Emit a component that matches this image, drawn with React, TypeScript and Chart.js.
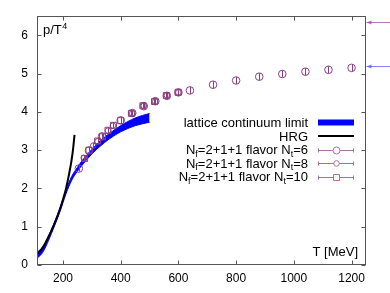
import React, { useEffect, useRef } from "react";
import { Chart, registerables } from "chart.js";
Chart.register(...registerables);

const xTicks = [200, 400, 600, 800, 1000, 1200];
const yTicks = [0, 1, 2, 3, 4, 5, 6];

const hrgT = [110, 120, 130, 140, 150, 160, 170, 180, 190, 200, 210, 220, 230, 235, 240];
const hrgP = [0.29, 0.36, 0.46, 0.59, 0.74, 0.9, 1.07, 1.26, 1.47, 1.71, 1.98, 2.33, 2.75, 3.03, 3.4];

const bandT = [110, 130, 150, 170, 190, 210, 230, 250, 270, 300, 330, 360, 400, 450, 500];
const bandLow = [0.17, 0.33, 0.64, 1.01, 1.4, 1.85, 2.21, 2.45, 2.64, 2.9, 3.11, 3.29, 3.48, 3.64, 3.73];
const bandHigh = [0.33, 0.47, 0.76, 1.11, 1.5, 1.95, 2.31, 2.55, 2.76, 3.02, 3.25, 3.43, 3.64, 3.84, 3.96];

const nt6T = [255, 290, 335, 400, 440, 480, 520, 560, 600, 640, 720, 800, 880, 960, 1040, 1120, 1200];
const nt6P = [2.52, 2.99, 3.36, 3.78, 3.97, 4.15, 4.28, 4.42, 4.51, 4.56, 4.71, 4.82, 4.92, 4.99, 5.05, 5.1, 5.15];
const nt6Err = [0.08, 0.08, 0.08, 0.08, 0.08, 0.08, 0.08, 0.08, 0.08, 0.09, 0.09, 0.09, 0.09, 0.09, 0.09, 0.09, 0.09];

const nt8T = [272, 305, 320, 356, 373, 440, 480, 520, 560, 600];
const nt8P = [2.8, 3.12, 3.23, 3.51, 3.64, 3.96, 4.16, 4.27, 4.43, 4.51];
const nt8Err = [0.07, 0.07, 0.07, 0.07, 0.07, 0.07, 0.07, 0.07, 0.07, 0.07];

const nt10T = [275, 290, 320, 337, 356, 375, 400, 437, 477, 517, 558, 599];
const nt10P = [2.78, 3.0, 3.24, 3.35, 3.52, 3.65, 3.77, 3.96, 4.16, 4.27, 4.43, 4.51];
const nt10Err = [0.08, 0.08, 0.08, 0.08, 0.08, 0.08, 0.08, 0.08, 0.08, 0.08, 0.08, 0.08];

const sbLimits = [6.36, 5.21];
const sbColors = ["rgba(150,80,150,0.75)", "rgba(90,90,255,0.75)"];

const PURPLE = "rgb(140,62,128)";
const PURPLE_L = "rgb(170,110,160)";
const FONT = "'Liberation Sans', Arial, sans-serif";

const pts = (xs: number[], ys: number[]) => xs.map((x, i) => ({ x, y: ys[i] }));

const errs: Record<number, number[]> = { 0: nt6Err, 1: nt8Err, 2: nt10Err };

const framePlugin = {
  id: "frame",
  afterDatasetsDraw(chart: any) {
    const { ctx, chartArea: a, scales } = chart;
    const x = scales.x, y = scales.y;
    ctx.save();
    // error bars
    ctx.strokeStyle = PURPLE;
    ctx.lineWidth = 1;
    [0, 1, 2].forEach((di) => {
      const ds = chart.data.datasets[di];
      ds.data.forEach((p: any, i: number) => {
        const px = Math.round(x.getPixelForValue(p.x)) + 0.5;
        const e = errs[di][i];
        ctx.beginPath();
        ctx.moveTo(px, y.getPixelForValue(p.y - e));
        ctx.lineTo(px, y.getPixelForValue(p.y + e));
        ctx.stroke();
      });
    });
    // frame
    const L = Math.round(a.left) + 0.5, R = Math.round(a.right) - 0.5;
    const T = Math.round(a.top) + 0.5, B = Math.round(a.bottom) - 0.5;
    ctx.strokeStyle = "#555";
    ctx.lineWidth = 1;
    ctx.strokeRect(L, T, R - L, B - T);
    ctx.beginPath();
    xTicks.forEach((v) => {
      const px = Math.round(x.getPixelForValue(v)) + 0.5;
      ctx.moveTo(px, B); ctx.lineTo(px, B - 4);
      ctx.moveTo(px, T); ctx.lineTo(px, T + 4);
    });
    yTicks.forEach((v) => {
      const py = Math.round(y.getPixelForValue(v)) + 0.5;
      ctx.moveTo(L, py); ctx.lineTo(L + 4, py);
      ctx.moveTo(R, py); ctx.lineTo(R - 4, py);
    });
    ctx.stroke();
    // SB arrows
    sbLimits.forEach((v, i) => {
      const py = Math.round(y.getPixelForValue(v)) + 0.5;
      ctx.strokeStyle = sbColors[i];
      ctx.fillStyle = sbColors[i];
      ctx.beginPath();
      ctx.moveTo(R + 1, py); ctx.lineTo(R + 26, py);
      ctx.stroke();
      ctx.beginPath();
      ctx.moveTo(R + 1, py); ctx.lineTo(R + 6, py - 2); ctx.lineTo(R + 6, py + 2);
      ctx.closePath(); ctx.fill();
    });
    // axis titles
    ctx.fillStyle = "#000";
    ctx.font = `13px ${FONT}`;
    ctx.textBaseline = "alphabetic";
    ctx.textAlign = "left";
    const tx = a.left + 6;
    ctx.fillText("p/T", tx, 34);
    const w = ctx.measureText("p/T").width;
    ctx.font = `9px ${FONT}`;
    ctx.fillText("4", tx + w + 0.5, 29);
    ctx.font = `13px ${FONT}`;
    ctx.textAlign = "right";
    ctx.fillText("T [MeV]", a.right - 8, 256);
    // legend
    const rows: { parts: [string, boolean][]; kind: string }[] = [
      { parts: [["lattice continuum limit", false]], kind: "band" },
      { parts: [["HRG", false]], kind: "hrg" },
      { parts: [["N", false], ["f", true], ["=2+1+1 flavor N", false], ["t", true], ["=6", false]], kind: "c6" },
      { parts: [["N", false], ["f", true], ["=2+1+1 flavor N", false], ["t", true], ["=8", false]], kind: "c8" },
      { parts: [["N", false], ["f", true], ["=2+1+1 flavor N", false], ["t", true], ["=10", false]], kind: "sq" },
    ];
    const textRight = 308;
    const sx0 = 318, sx1 = 354, smid = 336;
    rows.forEach((r, i) => {
      const cy = 122.5 + i * 13.5;
      const widths = r.parts.map(([s, sub]) => {
        ctx.font = `${sub ? 9 : 13}px ${FONT}`;
        return ctx.measureText(s).width;
      });
      let cx = textRight - widths.reduce((s, v) => s + v, 0);
      ctx.textAlign = "left";
      ctx.fillStyle = "#000";
      r.parts.forEach(([s, sub], k) => {
        ctx.font = `${sub ? 9 : 13}px ${FONT}`;
        ctx.textBaseline = "alphabetic";
        ctx.fillText(s, cx, cy + 4.6 + (sub ? 2.5 : 0));
        cx += widths[k];
      });
      const py = Math.round(cy) + 0.5;
      if (r.kind === "band") {
        ctx.fillStyle = "#0000ff";
        ctx.fillRect(sx0, cy - 3, sx1 - sx0, 6);
      } else if (r.kind === "hrg") {
        ctx.strokeStyle = "#000";
        ctx.lineWidth = 2;
        ctx.beginPath(); ctx.moveTo(sx0, Math.round(cy)); ctx.lineTo(sx1, Math.round(cy)); ctx.stroke();
      } else {
        ctx.strokeStyle = PURPLE_L;
        ctx.lineWidth = 1;
        ctx.beginPath();
        ctx.moveTo(sx0, py); ctx.lineTo(sx1, py);
        ctx.moveTo(sx0 + 0.5, py - 2); ctx.lineTo(sx0 + 0.5, py + 2);
        ctx.moveTo(sx1 - 0.5, py - 2); ctx.lineTo(sx1 - 0.5, py + 2);
        ctx.stroke();
        ctx.fillStyle = "#fff";
        ctx.strokeStyle = PURPLE_L;
        ctx.beginPath();
        if (r.kind === "c6") ctx.arc(smid + 0.5, py, 3.5, 0, Math.PI * 2);
        else if (r.kind === "c8") ctx.arc(smid + 0.5, py, 2.8, 0, Math.PI * 2);
        else ctx.rect(smid - 2.5, py - 3, 6, 6);
        ctx.fill(); ctx.stroke();
      }
    });
    ctx.restore();
  },
};

export default function App() {
  const ref = useRef<HTMLCanvasElement | null>(null);
  useEffect(() => {
    if (!ref.current) return;
    Chart.defaults.font.family = FONT;
    Chart.defaults.color = "#000";
    const chart = new Chart(ref.current, {
      type: "scatter",
      data: {
        datasets: [
          { label: "Nt6", data: pts(nt6T, nt6P), pointStyle: "circle", pointRadius: 3.8, borderColor: PURPLE, backgroundColor: "rgba(0,0,0,0)", borderWidth: 1, showLine: false } as any,
          { label: "Nt8", data: pts(nt8T, nt8P), pointStyle: "circle", pointRadius: 2.8, borderColor: PURPLE, backgroundColor: "rgba(0,0,0,0)", borderWidth: 1, showLine: false } as any,
          { label: "Nt10", data: pts(nt10T, nt10P), pointStyle: "rect", pointRadius: 4.2, borderColor: PURPLE, backgroundColor: "rgba(0,0,0,0)", borderWidth: 1, showLine: false } as any,
          { label: "HRG", data: pts(hrgT, hrgP), showLine: true, borderColor: "#000", borderWidth: 2, pointRadius: 0, cubicInterpolationMode: "monotone", fill: false } as any,
          { label: "low", data: pts(bandT, bandLow), showLine: true, borderColor: "#0000ff", borderWidth: 1, pointRadius: 0, cubicInterpolationMode: "monotone", fill: false } as any,
          { label: "high", data: pts(bandT, bandHigh), showLine: true, borderColor: "#0000ff", borderWidth: 1, pointRadius: 0, cubicInterpolationMode: "monotone", fill: "-1", backgroundColor: "#0000ff" } as any,
        ],
      },
      options: {
        animation: false,
        responsive: false,
        devicePixelRatio: 1,
        layout: { padding: { top: 16, right: 24, left: 0, bottom: 0 } },
        plugins: { legend: { display: false }, tooltip: { enabled: false } },
        scales: {
          x: {
            type: "linear",
            min: 110,
            max: 1250,
            grid: { display: false, drawTicks: false },
            border: { display: false },
            ticks: { padding: 6, font: { size: 12, family: FONT }, color: "#000", maxRotation: 0, callback: (v: any) => String(v) },
            afterBuildTicks: (s: any) => { s.ticks = xTicks.map((v) => ({ value: v })); },
            afterFit: (s: any) => { s.height = 28; },
          },
          y: {
            type: "linear",
            min: 0,
            max: 6.5,
            grid: { display: false, drawTicks: false },
            border: { display: false },
            ticks: { padding: 9, font: { size: 12, family: FONT }, color: "#000", callback: (v: any) => String(v) },
            afterBuildTicks: (s: any) => { s.ticks = yTicks.map((v) => ({ value: v })); },
            afterFit: (s: any) => { s.width = 37; },
          },
        },
      } as any,
      plugins: [framePlugin],
    });
    return () => chart.destroy();
  }, []);
  return (
    <div style={{ position: "fixed", left: 0, top: 0, width: 390, height: 293, background: "#fff" }}>
      <canvas ref={ref} width={390} height={293} style={{ display: "block" }} />
    </div>
  );
}
